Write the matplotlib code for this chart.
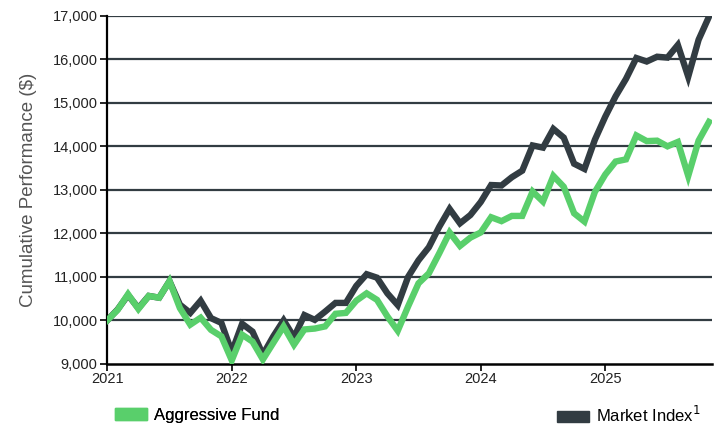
import numpy as np
import matplotlib.pyplot as plt
from matplotlib.patches import Patch

# monthly values, Jan 2021 onward
fund = [10000, 10240, 10600, 10260, 10560, 10520, 10900, 10280, 9900, 10060,
        9780, 9630, 9080, 9670, 9510, 9100, 9480, 9860, 9440, 9790,
        9810, 9860, 10150, 10170, 10450, 10620, 10470, 10090, 9760, 10320,
        10850, 11080, 11540, 12020, 11710, 11900, 12020, 12370, 12280, 12400,
        12400, 12960, 12730, 13320, 13070, 12460, 12270, 12950, 13350, 13650,
        13700, 14250, 14120, 14130, 14000, 14100, 13320, 14130, 14560]
market = [10000, 10250, 10580, 10280, 10560, 10520, 10900, 10360, 10170, 10450,
          10050, 9940, 9270, 9920, 9740, 9210, 9630, 10000, 9610, 10120,
          10010, 10200, 10400, 10400, 10790, 11060, 10980, 10620, 10350, 11000,
          11380, 11680, 12150, 12560, 12230, 12420, 12720, 13110, 13100, 13290,
          13440, 14020, 13970, 14400, 14200, 13600, 13480, 14150, 14680, 15150,
          15550, 16030, 15950, 16060, 16040, 16330, 15600, 16450, 16980]

x = 2021 + np.arange(len(fund)) / 12
yticks = np.arange(9000, 17001, 1000)
years = [2021, 2022, 2023, 2024, 2025]

green = '#59cf6b'
dark = '#323c42'

plt.rcParams['font.family'] = ['Liberation Sans', 'DejaVu Sans']

fig = plt.figure(figsize=(7.2, 4.28), dpi=100)
ax = fig.add_axes([0.149, 0.150, 0.840, 0.813])

# horizontal gridlines
for yv in yticks[1:]:
    ax.axhline(yv, color=dark, lw=1.6, zorder=1)

ax.plot(x, fund, color=green, lw=4.6, solid_joinstyle='miter', zorder=3)
ax.plot(x, market, color=dark, lw=4.6, solid_joinstyle='miter', zorder=2)

ax.set_xlim(2021, 2021 + 58.3 / 12)
ax.set_ylim(9000, 17000)
ax.set_yticks(yticks)
ax.set_yticklabels([f'{v:,}' for v in yticks], fontsize=10.5, color='#222222')
ax.set_xticks(years)
ax.set_xticklabels([str(y) for y in years], fontsize=10.5, color='#222222')
ax.tick_params(axis='both', direction='out', length=5, width=1.2, color='black')
ax.tick_params(axis='x', pad=1)
ax.tick_params(axis='y', pad=2)

for side in ['top', 'right']:
    ax.spines[side].set_visible(False)
ax.spines['left'].set_linewidth(1.6)
ax.spines['bottom'].set_linewidth(1.8)

ax.set_ylabel('Cumulative Performance ($)', fontsize=13.5, color='#555555', labelpad=11)

leg_kw = dict(loc='center left', frameon=False, fontsize=12, handlelength=1.9,
              handleheight=0.7, handletextpad=0.45, borderpad=0, borderaxespad=0)
leg1 = fig.legend(handles=[Patch(color=green)], labels=['Aggressive Fund'],
                  bbox_to_anchor=(0.160, 0.03), **leg_kw)
leg2 = fig.legend(handles=[Patch(color=dark)], labels=['Market Index$^1$'],
                  bbox_to_anchor=(0.774, 0.03), **leg_kw)
fig.add_artist(leg1)

fig.savefig('out.png', dpi=100)
